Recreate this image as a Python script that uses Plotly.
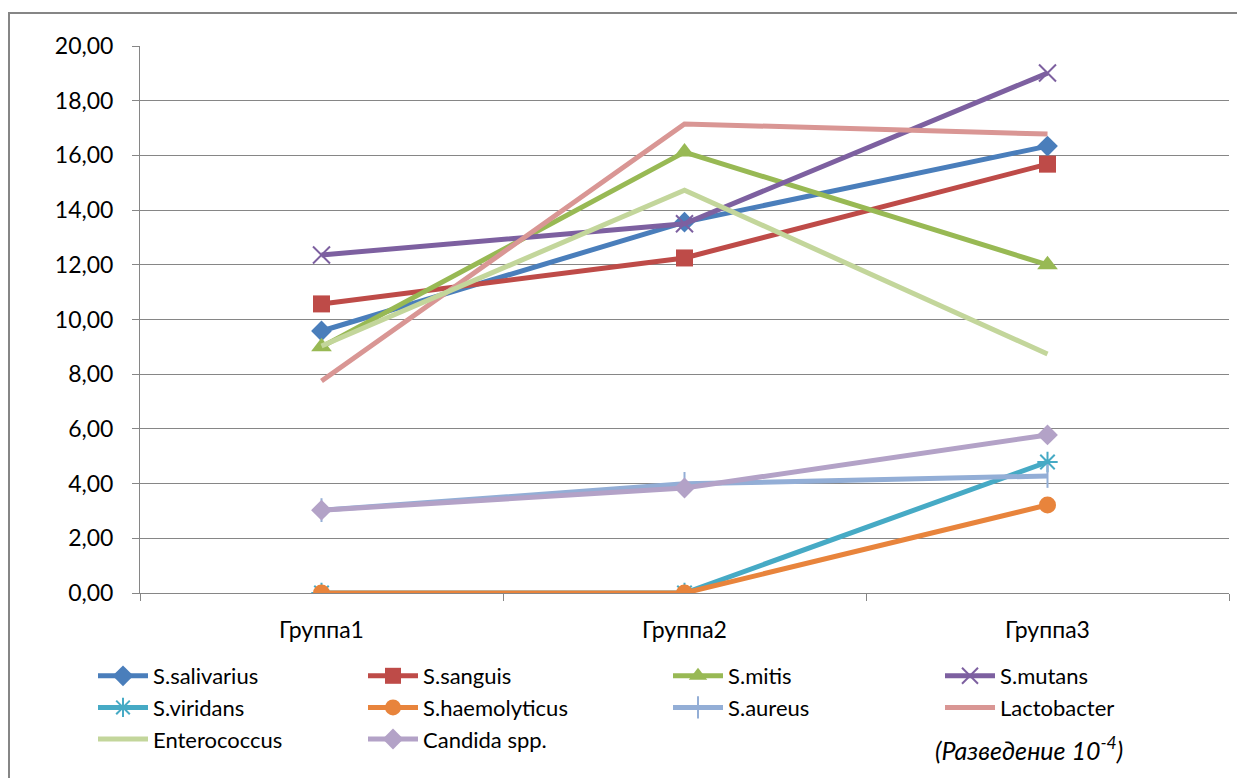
import plotly.graph_objects as go

categories = ["Группа1", "Группа2", "Группа3"]

s_salivarius = [9.58, 13.56, 16.34]
s_sanguis = [10.57, 12.25, 15.68]
s_mitis = [9.00, 16.12, 12.00]
s_mutans = [12.36, 13.50, 19.01]
s_viridans = [0.0, 0.0, 4.79]
s_haemolyticus = [0.0, 0.0, 3.22]
s_aureus = [3.03, 3.99, 4.28]
lactobacter = [7.75, 17.15, 16.78]
enterococcus = [9.03, 14.73, 8.74]
candida = [3.03, 3.84, 5.78]

series = [
    # name, values, color, symbol, size, legend
    ("S.salivarius", s_salivarius, "#4A7EBB", "diamond", 16, "legend"),
    ("S.sanguis", s_sanguis, "#BE4B48", "square", 17, "legend2"),
    ("S.mitis", s_mitis, "#98B954", "triangle-up", 18, "legend3"),
    ("S.mutans", s_mutans, "#7D60A0", "x-thin", 17, "legend4"),
    ("S.viridans", s_viridans, "#46AAC5", "asterisk", 17, "legend"),
    ("S.haemolyticus", s_haemolyticus, "#E8843C", "circle", 17, "legend2"),
    ("S.aureus", s_aureus, "#93AED6", "line-ns", 17, "legend3"),
    ("Lactobacter", lactobacter, "#D99694", None, 0, "legend4"),
    ("Enterococcus", enterococcus, "#C3D69B", None, 0, "legend"),
    ("Candida spp.", candida, "#B3A2C7", "diamond", 16, "legend2"),
]

fig = go.Figure()
for name, vals, color, sym, size, leg in series:
    if sym is None:
        fig.add_trace(go.Scatter(x=categories, y=vals, name=name, mode="lines",
                                 line=dict(color=color, width=5), legend=leg))
    else:
        mk = dict(symbol=sym, size=size, color=color,
                  line=dict(color=color, width=2 if sym in ("x-thin", "asterisk", "line-ns") else 0))
        fig.add_trace(go.Scatter(x=categories, y=vals, name=name, mode="lines+markers",
                                 line=dict(color=color, width=5), marker=mk, legend=leg))

font = dict(family="Lato, Open Sans, sans-serif", size=23, color="#000000")
legfont = dict(family="Lato, Open Sans, sans-serif", size=22, color="#000000")

def leg(xpx):
    return dict(x=(xpx - 140) / 1089, xanchor="left", y=(593 - 655) / 547, yanchor="top",
                font=legfont, bgcolor="rgba(0,0,0,0)", tracegroupgap=0, itemwidth=50)

# page is offset by the browser's 8px body margin, so the figure is 8px smaller
fig.update_layout(
    width=1237, height=770,
    margin=dict(l=132, r=16, t=38, b=185),
    paper_bgcolor="white", plot_bgcolor="white",
    separators=",.",
    font=font,
    showlegend=True,
    legend=leg(93), legend2=leg(363), legend3=leg(668), legend4=leg(940),
    xaxis=dict(type="category", tickson="boundaries", ticks="outside", ticklen=7,
               tickcolor="#868686", showline=True, linecolor="#868686", linewidth=1,
               showgrid=False, tickfont=font, range=[-0.5, 2.5], ticklabelstandoff=16),
    yaxis=dict(range=[0, 20], dtick=2, tickformat=".2f", ticks="outside", ticklen=7,
               tickcolor="#868686", showline=True, linecolor="#868686", linewidth=1,
               showgrid=True, gridcolor="#868686", gridwidth=1, zeroline=False,
               tickfont=font, ticklabelstandoff=14),
    shapes=[dict(type="rect", xref="paper", yref="paper",
                 x0=(9 - 140) / 1089, x1=(1240 - 140) / 1089,
                 y0=(593 - 800) / 547, y1=(593 - 13) / 547,
                 line=dict(color="#868686", width=2), fillcolor="rgba(0,0,0,0)", layer="below")],
    annotations=[dict(text="<i>(Разведение 10<sup>-4</sup>)</i>", xref="paper", yref="paper",
                      x=(1029 - 140) / 1089, y=(593 - 748) / 547, xanchor="center", yanchor="middle",
                      showarrow=False, font=dict(family="Lato, Open Sans, sans-serif", size=25,
                                                 color="#000000"))],
)

fig.write_html("out.html")
